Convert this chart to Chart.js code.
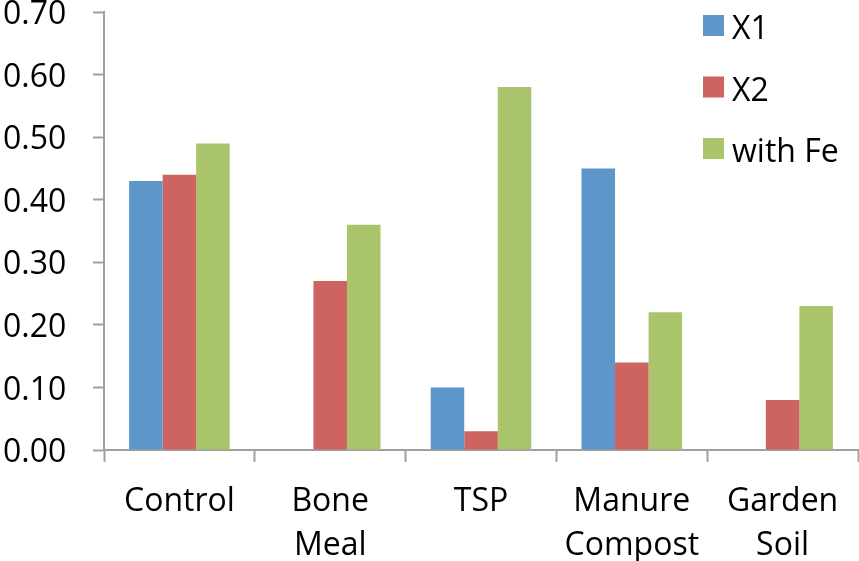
<!DOCTYPE html>
<html>
<head>
<meta charset="utf-8">
<script src="https://cdn.jsdelivr.net/npm/chart.js@4"></script>
<style>
html,body{margin:0;padding:0;background:#fff;}
#wrap{width:859px;height:561px;}
</style>
</head>
<body>
<div id="wrap"><canvas id="c" width="859" height="561"></canvas></div>
<script>
const categories = [["Control"], ["Bone", "Meal"], ["TSP"], ["Manure", "Compost"], ["Garden", "Soil"]];
const seriesNames = ["X1", "X2", "with Fe"];
const x1Values = [0.43, 0, 0.10, 0.45, 0];
const x2Values = [0.44, 0.27, 0.03, 0.14, 0.08];
const feValues = [0.49, 0.36, 0.58, 0.22, 0.23];
const yTicks = [0, 0.1, 0.2, 0.3, 0.4, 0.5, 0.6, 0.7];
const colors = ["#5E96CA", "#CD645F", "#AAC46C"];

const FONT = '"Open Sans", sans-serif';

const legendPlugin = {
  id: 'insideLegend',
  afterDraw(chart) {
    const ctx = chart.ctx;
    ctx.save();
    chart.data.datasets.forEach((ds, i) => {
      const y0 = 15 + i * 61.5;
      ctx.fillStyle = ds.backgroundColor;
      ctx.fillRect(703, y0, 21, 21);
      ctx.fillStyle = '#000';
      ctx.font = '32px ' + FONT;
      ctx.textBaseline = 'alphabetic';
      ctx.textAlign = 'left';
      ctx.fillText(ds.label, 732, y0 + 24);
    });
    ctx.restore();
  }
};

new Chart(document.getElementById('c'), {
  type: 'bar',
  data: {
    labels: categories,
    datasets: [
      { label: seriesNames[0], data: x1Values, backgroundColor: colors[0] },
      { label: seriesNames[1], data: x2Values, backgroundColor: colors[1] },
      { label: seriesNames[2], data: feValues, backgroundColor: colors[2] }
    ]
  },
  options: {
    responsive: false,
    animation: false,
    devicePixelRatio: 1,
    layout: { padding: { top: 0, right: 1, left: 3, bottom: 0 } },
    datasets: { bar: { barPercentage: 1.0, categoryPercentage: 0.667, borderWidth: 0 } },
    plugins: { legend: { display: false }, tooltip: { enabled: false } },
    scales: {
      x: {
        grid: { display: true, drawOnChartArea: false, offset: true, tickLength: 12, tickColor: '#a0a0a0', tickWidth: 2 },
        border: { display: true, color: '#a0a0a0', width: 2 },
        ticks: { color: '#000', font: { family: FONT, size: 32, lineHeight: 1.375 }, padding: 18, maxRotation: 0, autoSkip: false },
        afterFit(scale) { scale.height = 111; }
      },
      y: {
        min: 0, max: 0.7,
        afterBuildTicks(scale) { scale.ticks = yTicks.map(v => ({ value: v })); },
        grid: { display: true, drawOnChartArea: false, tickLength: 11, tickColor: '#a0a0a0', tickWidth: 2 },
        border: { display: true, color: '#a0a0a0', width: 2 },
        ticks: {
          color: '#000', font: { family: FONT, size: 32, lineHeight: 0.75 }, padding: 0, labelOffset: 3,
          crossAlign: 'far',
          callback: (v) => Number(v).toFixed(2)
        },
        afterFit(scale) { scale.width = 101; }
      }
    }
  },
  plugins: [legendPlugin]
});
</script>
</body>
</html>
